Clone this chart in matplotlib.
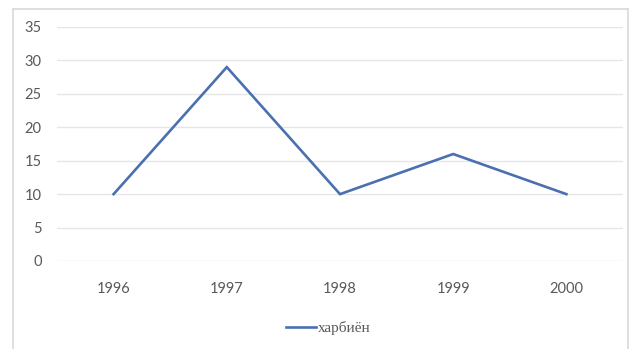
import matplotlib
matplotlib.use("Agg")
import matplotlib.pyplot as plt
from matplotlib.lines import Line2D

years = ["1996", "1997", "1998", "1999", "2000"]
values = [10, 29, 10, 16, 10]
series_name = "харбиён"
y_ticks = [0, 5, 10, 15, 20, 25, 30, 35]

W, H = 636, 349
fig = plt.figure(figsize=(W / 100, H / 100), dpi=100)
fig.patch.set_facecolor("white")

# chart-area frame (open at the bottom)
frame_color = "#d9d9d9"
fx0, fx1, fy_top = 12.5 / W, 627.5 / W, 1 - 9 / H
fig.add_artist(Line2D([fx0, fx0], [0, fy_top], color=frame_color, lw=1.2, transform=fig.transFigure))
fig.add_artist(Line2D([fx1, fx1], [0, fy_top], color=frame_color, lw=1.2, transform=fig.transFigure))
fig.add_artist(Line2D([fx0, fx1], [fy_top, fy_top], color=frame_color, lw=1.2, transform=fig.transFigure))

left, right = 57 / W, 623 / W
bottom, top = 1 - 261 / H, 1 - 27 / H
ax = fig.add_axes([left, bottom, right - left, top - bottom])
ax.set_facecolor("none")

x = list(range(len(years)))
line_color = "#4a70b0"
ax.plot(x, values, color=line_color, lw=1.9, solid_joinstyle="miter", label=series_name, zorder=3)

ax.set_xlim(-0.5, len(years) - 0.5)
ax.set_ylim(0, 35)
ax.set_yticks(y_ticks)
ax.set_xticks(x)
ax.set_xticklabels(years)
for yv in y_ticks:
    ax.axhline(yv, color="#e6e6e6", lw=1.0, zorder=1)

for s in ax.spines.values():
    s.set_visible(False)
ax.tick_params(axis="both", length=0, colors="#595959", labelsize=10.5)
ax.tick_params(axis="y", pad=11)
ax.tick_params(axis="x", pad=15)
for lab in ax.get_xticklabels() + ax.get_yticklabels():
    lab.set_fontfamily("Lato")

leg = fig.legend(
    handles=[Line2D([], [], color=line_color, lw=1.9)],
    labels=[series_name],
    loc="center",
    bbox_to_anchor=(328 / W, 1 - 328 / H),
    frameon=False,
    handlelength=2.0,
    handletextpad=0.1,
    prop={"family": "Liberation Serif", "size": 11},
)
for t in leg.get_texts():
    t.set_color("#595959")

fig.savefig("out.png", dpi=100, facecolor="white")
